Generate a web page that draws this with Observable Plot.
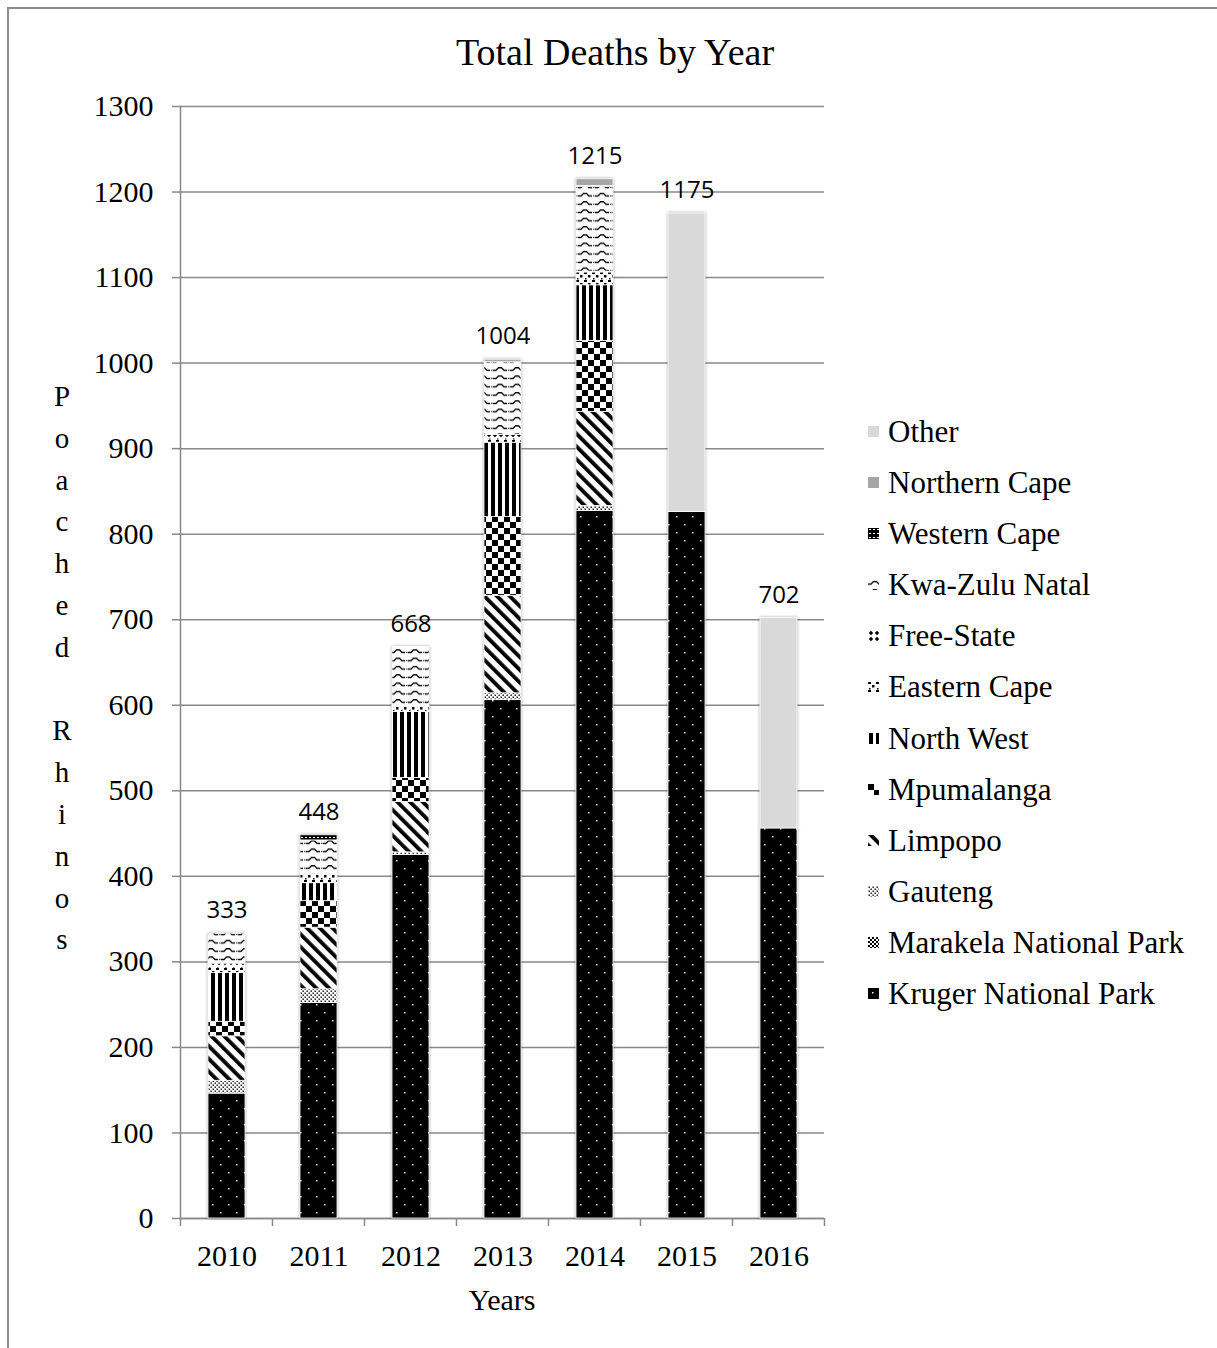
<!DOCTYPE html>
<html><head><meta charset="utf-8">
<script src="https://cdn.jsdelivr.net/npm/d3@7"></script>
<script src="https://cdn.jsdelivr.net/npm/@observablehq/plot@0.6"></script>
<style>
body{margin:0;background:#fff;}
#wrap{position:relative;width:1217px;height:1348px;overflow:hidden;font-family:"Liberation Serif","Times New Roman",serif;color:#000;}
#border{position:absolute;left:7px;top:7px;width:1300px;height:1400px;border-left:2px solid #8c8c8c;border-top:2px solid #8c8c8c;}
#chart{position:absolute;left:0;top:0;}
#title{position:absolute;left:0;width:1230px;top:33px;line-height:38px;text-align:center;font-size:38px;}
#ylab{position:absolute;left:47px;width:30px;top:376px;text-align:center;font-size:29px;line-height:41.8px;}
#xlab{position:absolute;left:402px;width:200px;top:1285px;line-height:30px;text-align:center;font-size:30px;}
#legend{position:absolute;left:868px;top:406px;font-size:31px;}
#legend .row{height:51.1px;line-height:51.1px;white-space:nowrap;display:flex;align-items:center;}
#legend svg{margin-right:9px;flex:none;}
</style>
</head><body>
<svg style="position:absolute;width:0;height:0;" aria-hidden="true">
<defs>
<pattern id="pKruger" patternUnits="userSpaceOnUse" width="16" height="16">
 <rect width="16" height="16" fill="#000"/>
 <rect x="4" y="4" width="1.5" height="1.5" fill="#fff"/>
 <rect x="12" y="12" width="1.5" height="1.5" fill="#fff"/>
</pattern>
<pattern id="pMarakela" patternUnits="userSpaceOnUse" width="4" height="4">
 <rect width="4" height="4" fill="#fff"/>
 <rect width="2" height="2" fill="#000"/><rect x="2" y="2" width="2" height="2" fill="#000"/>
</pattern>
<pattern id="pGauteng" patternUnits="userSpaceOnUse" width="4" height="4">
 <rect width="4" height="4" fill="#fff"/>
 <rect x="0.5" y="0.5" width="1.4" height="1.4" fill="#000"/>
 <rect x="2.5" y="2.5" width="1.4" height="1.4" fill="#000"/>
</pattern>
<pattern id="pLimpopo" patternUnits="userSpaceOnUse" width="9" height="9" patternTransform="rotate(-45)">
 <rect width="9" height="9" fill="#fff"/>
 <rect width="3.8" height="9" fill="#000"/>
</pattern>
<pattern id="pMpumalanga" patternUnits="userSpaceOnUse" width="12" height="12">
 <rect width="12" height="12" fill="#fff"/>
 <rect width="6" height="6" fill="#000"/><rect x="6" y="6" width="6" height="6" fill="#000"/>
</pattern>
<pattern id="pNorthWest" patternUnits="userSpaceOnUse" width="7" height="7">
 <rect width="7" height="7" fill="#fff"/>
 <rect x="1" width="4" height="7" fill="#000"/>
</pattern>
<pattern id="pEasternCape" patternUnits="userSpaceOnUse" width="8" height="8">
 <rect width="8" height="8" fill="#fff"/>
 <rect x="0" y="0" width="3" height="2" fill="#000"/>
 <rect x="4" y="3" width="2.5" height="2.5" fill="#000"/>
 <rect x="1" y="6" width="1.5" height="1.5" fill="#000"/>
</pattern>
<pattern id="pFreeState" patternUnits="userSpaceOnUse" width="6" height="6">
 <rect width="6" height="6" fill="#fff"/>
 <path d="M3,0.8L5.2,3L3,5.2L0.8,3Z" fill="#000"/>
</pattern>
<pattern id="pKZN" patternUnits="userSpaceOnUse" width="17" height="8.3">
 <rect width="17" height="8.3" fill="#fff"/>
 <path d="M0,5L3,5L5.5,2.5L8.5,2.5L11,5L14,5" fill="none" stroke="#000" stroke-width="1.3"/>
 <rect x="15.2" y="4.4" width="1.2" height="1.2" fill="#000"/>
</pattern>
<pattern id="pWesternCape" patternUnits="userSpaceOnUse" width="4" height="4">
 <rect width="4" height="4" fill="#000"/>
 <rect x="1" y="1" width="2" height="1" fill="#fff"/>
</pattern>
</defs>
</svg>
<div id="wrap">
 <div id="border"></div>
 <div id="chart"></div>
 <div id="title">Total Deaths by Year</div>
 <div id="ylab"></div>
 <div id="xlab">Years</div>
 <div id="legend"></div>
</div>
<script>
// ---- data ----
const years = ["2010", "2011", "2012", "2013", "2014", "2015", "2016"];
const regions = ["Kruger National Park", "Marakela National Park", "Gauteng", "Limpopo", "Mpumalanga",
  "North West", "Eastern Cape", "Free-State", "Kwa-Zulu Natal", "Western Cape", "Northern Cape", "Other"];
const kruger       = [146, 252, 425, 606, 827, 826, 456];
const marakela     = [0, 0, 0, 0, 0, 0, 0];
const gauteng      = [15, 16, 3, 8, 6, 0, 0];
const limpopo      = [52, 72, 59, 114, 110, 0, 0];
const mpumalanga   = [17, 31, 28, 92, 83, 0, 0];
const northWest    = [57, 21, 77, 87, 65, 0, 0];
const easternCape  = [7, 11, 7, 5, 15, 0, 0];
const freeState    = [4, 0, 0, 4, 1, 0, 0];
const kwaZuluNatal = [35, 39, 69, 85, 99, 0, 0];
const westernCape  = [0, 6, 0, 0, 1, 0, 0];
const northernCape = [0, 0, 0, 3, 8, 0, 0];
const other        = [0, 0, 0, 0, 0, 349, 246];
const totals       = [333, 448, 668, 1004, 1215, 1175, 702];
const yTicks = [0, 100, 200, 300, 400, 500, 600, 700, 800, 900, 1000, 1100, 1200, 1300];
const yLabelText = "Poached Rhinos";

const series = [kruger, marakela, gauteng, limpopo, mpumalanga, northWest, easternCape,
  freeState, kwaZuluNatal, westernCape, northernCape, other];
const fills = ["url(#pKruger)", "url(#pMarakela)", "url(#pGauteng)", "url(#pLimpopo)", "url(#pMpumalanga)",
  "url(#pNorthWest)", "url(#pEasternCape)", "url(#pFreeState)", "url(#pKZN)", "url(#pWesternCape)",
  "#a6a6a6", "#d9d9d9"];

const data = regions.flatMap((r, i) => years.map((y, j) => ({year: y, region: r, value: series[i][j]})));
const totalData = years.map((y, j) => ({year: y, total: totals[j]}));

const serif = "Liberation Serif, Times New Roman, serif";
const gridColor = "#898989";

const chart = Plot.plot({
  width: 1217,
  height: 1348,
  marginLeft: 180,
  marginRight: 393,
  marginTop: 106,
  marginBottom: 130,
  style: {background: "transparent", color: "#000", fontFamily: serif},
  x: {type: "band", domain: years, paddingInner: 0.6, paddingOuter: 0.3},
  y: {domain: [0, 1300]},
  color: {type: "ordinal", domain: regions, range: fills},
  marks: [
    Plot.gridY(yTicks, {stroke: gridColor, strokeOpacity: 1, strokeWidth: 1.5}),
    Plot.frame({anchor: "left", stroke: gridColor, strokeWidth: 1.5}),
    Plot.ruleY([0], {stroke: gridColor, strokeWidth: 1.5}),
    Plot.axisY(yTicks, {tickSize: 8, tickPadding: 19, stroke: gridColor, strokeWidth: 1.5,
      tickFormat: d => String(d), fontSize: 30, fontFamily: serif, fill: "#000", label: null}),
    Plot.axisX({tickSize: 0, tickPadding: 26, fontSize: 30, fontFamily: serif, fill: "#000", label: null}),
    Plot.barY(data, {x: "year", y: "value", fill: "region", order: regions,
      stroke: "#fff", strokeWidth: 0.8}),
    Plot.text(totalData, {x: "year", y: "total", text: d => String(d.total), dy: -23,
      fontSize: 24, fontFamily: "Open Sans, sans-serif", fill: "#000"})
  ]
});
document.getElementById("chart").appendChild(chart);

// bar halo
d3.select(chart).selectAll('g[aria-label="bar"]').style("filter", "drop-shadow(0 0 1.5px rgba(0,0,0,0.35))");

// category boundary ticks on the x axis, from the band scale
const sx = chart.scale("x");
const sy = chart.scale("y");
const y0 = sy.apply(0);
const bounds = years.map(y => sx.apply(y) + sx.bandwidth / 2 - sx.step / 2);
bounds.push(sx.apply(years[years.length - 1]) + sx.bandwidth / 2 + sx.step / 2);
d3.select(chart).append("g").selectAll("line").data(bounds).join("line")
  .attr("x1", d => d).attr("x2", d => d).attr("y1", y0).attr("y2", y0 + 8)
  .attr("stroke", gridColor).attr("stroke-width", 1.5);

// vertical stacked y label
const ylab = document.getElementById("ylab");
for (const ch of yLabelText) {
  const d = document.createElement("div");
  d.textContent = ch === " " ? "\u00a0" : ch;
  ylab.appendChild(d);
}

// legend (reverse of stacking order)
const legend = document.getElementById("legend");
regions.map((r, i) => [r, fills[i]]).reverse().forEach(([r, f]) => {
  const row = document.createElement("div");
  row.className = "row";
  row.innerHTML = `<svg width="11" height="11"><rect width="11" height="11" fill="${f}"/></svg><span>${r}</span>`;
  legend.appendChild(row);
});
</script>
</body></html>
